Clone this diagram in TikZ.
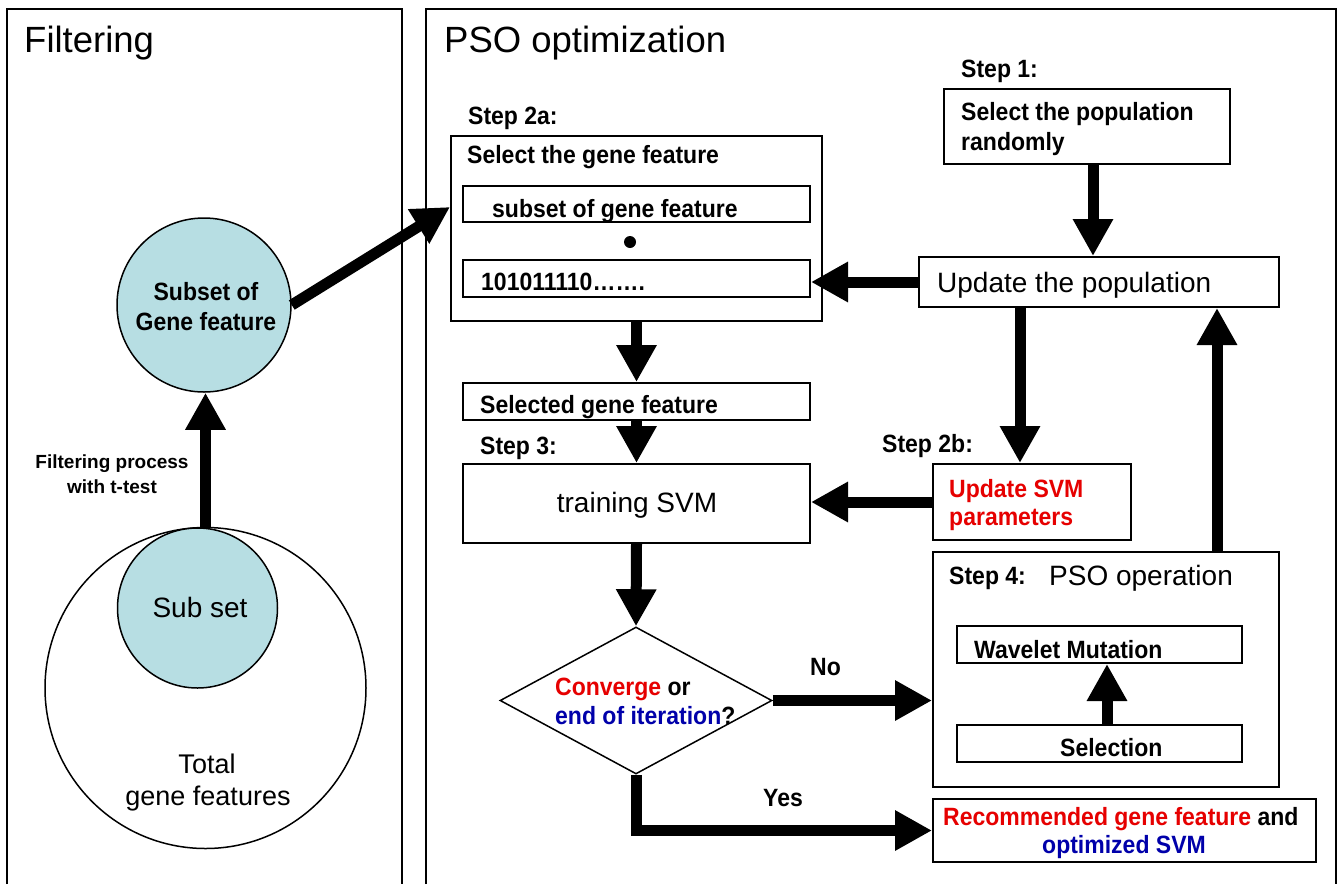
\documentclass[tikz,border=0pt]{standalone}
\usepackage{fontspec}
\setmainfont{Liberation Sans}
\newfontfamily\condsans{Liberation Sans}[FakeStretch=0.92]
\usetikzlibrary{arrows.meta,shapes.geometric}
\definecolor{cfill}{RGB}{183,222,227}
\definecolor{cred}{RGB}{230,0,0}
\definecolor{cblue}{RGB}{0,0,170}
\newcommand\myfs[1]{\fontsize{#1}{#1}\selectfont}
\begin{document}
\begin{tikzpicture}[x=1pt,y=-1pt,
  panel/.style={line width=2pt},
  box/.style={draw, line width=2pt, inner sep=0pt, rectangle},
  blob/.style={draw, circle, line width=1.5pt, inner sep=0pt},
  arr/.style={line width=11pt, -{Triangle[width=38pt,length=37pt]}},
  bl/.style={font=\condsans\myfs{25}\bfseries, inner sep=0pt, anchor=base west},
  big/.style={font=\myfs{28}, inner sep=0pt},
  title/.style={font=\myfs{36.5}, inner sep=0pt, anchor=base west},
]
\useasboundingbox[fill=white] (0,0) rectangle (1341,884);
% panels
\draw[panel] (7,884) -- (7,9) -- (402,9) -- (402,884);
\draw[panel] (426,884) -- (426,9) -- (1336,9) -- (1336,884);
\node[title] (tfilt) at (24,52) {Filtering};
\node[title] (tpso) at (444,52) {PSO optimization};

% filtering panel
\node[blob, fill=white, minimum size=321pt] (total) at (205.5,688) {};
\node[blob, fill=cfill, minimum size=160pt] (subs) at (197.5,608) {};
\node[blob, fill=cfill, minimum size=174pt] (subsetg) at (204,305) {};
\node[bl, anchor=base] (tg1) at (206,300) {Subset of};
\node[bl, anchor=base] (tg2) at (206,330) {Gene feature};
\node[font=\myfs{28}, inner sep=0pt, anchor=base] (tss) at (200,617) {Sub set};
\node[font=\myfs{27}, inner sep=0pt, anchor=base] (tt1) at (207,773) {Total};
\node[font=\myfs{27}, inner sep=0pt, anchor=base] (tt2) at (208,805) {gene features};
\node[font=\myfs{19}\bfseries, inner sep=0pt, anchor=base] (tf1) at (112,468) {Filtering process};
\node[font=\myfs{19}\bfseries, inner sep=0pt, anchor=base] (tf2) at (112,493) {with t-test};

% PSO panel boxes
\node[box, minimum width=371pt, minimum height=185pt] (box2a) at (636.5,228.5) {};
\node[box, minimum width=347pt, minimum height=36pt] (sub) at (636.5,204) {};
\node[box, minimum width=347pt, minimum height=37pt] (bits) at (636.5,278.5) {};
\node[circle, fill, inner sep=0pt, minimum size=12pt] (dot) at (630,242) {};
\node[box, minimum width=347pt, minimum height=37pt] (sel) at (636.5,401.5) {};
\node[box, minimum width=347pt, minimum height=79pt] (train) at (636.5,503.5) {};
\node[draw, diamond, line width=1.5pt, inner sep=0pt, minimum width=272pt, minimum height=147pt] (dia) at (636,700.5) {};
\node[box, minimum width=286pt, minimum height=75pt] (step1) at (1087,126.5) {};
\node[box, minimum width=360pt, minimum height=50pt] (upd) at (1099,282) {};
\node[box, minimum width=198pt, minimum height=76pt] (updsvm) at (1032,502) {};
\node[box, minimum width=346pt, minimum height=235pt] (pso) at (1106,669.5) {};
\node[box, minimum width=285pt, minimum height=37pt] (wav) at (1099.5,644.5) {};
\node[box, minimum width=285pt, minimum height=37pt] (selc) at (1099.5,743.5) {};
\node[box, minimum width=383pt, minimum height=63pt] (rec) at (1124.5,830.5) {};

% texts
\node[bl] (s2a) at (468,124) {Step 2a:};
\node[bl] (t2a) at (467,163) {Select the gene feature};
\node[bl] (tsub) at (492,217) {subset of gene feature};
\node[bl] (tbits) at (481,290) {101011110…….};
\node[bl] (tsel) at (480,413) {Selected gene feature};
\node[bl] (s3) at (480,454) {Step 3:};
\node[big, anchor=base] (ttrain) at (637,512) {training SVM};
\node[bl] (s2b) at (882,452) {Step 2b:};
\node[bl, text=cred] (tu1) at (949,497) {Update SVM};
\node[bl, text=cred] (tu2) at (949,525) {parameters};
\node[bl] (s1) at (961,77) {Step 1:};
\node[bl] (ts1a) at (961,120) {Select the population};
\node[bl] (ts1b) at (961,150) {randomly};
\node[big, anchor=base west] (tupd) at (937,292) {Update the population};
\node[bl] (s4) at (949,584) {Step 4:};
\node[big, anchor=base west] (tpsoop) at (1049,585) {PSO operation};
\node[bl] (twav) at (974,658) {Wavelet Mutation};
\node[bl] (tselc) at (1060,756) {Selection};
\node[bl] (trec1) at (943,825) {\textcolor{cred}{Recommended gene feature} and};
\node[bl, text=cblue] (trec2) at (1042,853) {optimized SVM};
\node[bl] (tno) at (810,675) {No};
\node[bl] (tyes) at (763,806) {Yes};
\node[bl] (dc1) at (555,695) {\textcolor{cred}{Converge} or};
\node[bl] (dc2) at (555,724) {\textcolor{cblue}{end of iteration}?};

% helper coordinates
\coordinate (a2a) at ([yshift=21.5pt]box2a.west);
\coordinate (p1) at ([xshift=6pt]step1.south);
\coordinate (p2) at ([xshift=-12pt]updsvm.north);
\coordinate (p3) at ([xshift=111pt]pso.north);
\coordinate (p4) at ([xshift=7.5pt]selc.north);

% arrows
\draw[arr] (total.north) -- (total.north |- subsetg.south);
\draw[arr] (subsetg.east) -- (a2a);
\draw[arr] (box2a.south) -- (sel.north);
\draw[arr] (sel.south) -- (train.north);
\draw[arr] (train.south) -- (dia.north);
\draw[arr] (dia.east) -- (dia.east -| pso.west);
\draw[arr] (dia.south) |- (rec.west);
\draw[arr] (p1) -- (p1 |- upd.north);
\draw[arr] (upd.west) -- (upd.west -| bits.east);
\draw[arr] (p2 |- upd.south) -- (p2);
\draw[arr] (updsvm.west) -- (updsvm.west -| train.east);
\draw[arr] (p3) -- (p3 |- upd.south);
\draw[arr] (p4) -- (p4 |- wav.south);
\end{tikzpicture}
\end{document}
